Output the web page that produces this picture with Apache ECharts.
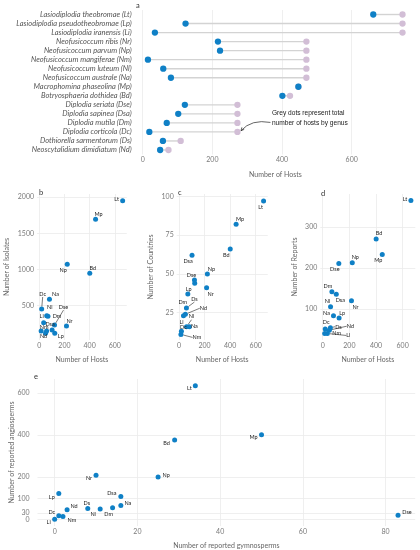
<!DOCTYPE html>
<html>
<head>
<meta charset="utf-8">
<script src="https://cdn.jsdelivr.net/npm/echarts@6/dist/echarts.min.js"></script>
<style>
html, body { margin: 0; padding: 0; background: #fff; }
#chart { width: 420px; height: 550px; }
</style>
</head>
<body>
<div id="chart"></div>
<script>
// species shown in panel a, top to bottom
const species = [
  'Lasiodiplodia theobromae (Lt)', 'Lasiodiplodia pseudotheobromae (Lp)', 'Lasiodiplodia iranensis (Li)',
  'Neofusicoccum ribis (Nr)', 'Neofusicoccum parvum (Np)', 'Neofusicoccum mangiferae (Nm)',
  'Neofusicoccum luteum (Nl)', 'Neofusicoccum australe (Na)', 'Macrophomina phaseolina (Mp)',
  'Botryosphaeria dothidea (Bd)', 'Diplodia seriata (Dse)', 'Diplodia sapinea (Dsa)',
  'Diplodia mutila (Dm)', 'Diplodia corticola (Dc)', 'Dothiorella sarmentorum (Ds)',
  'Neoscytalidium dimidiatum (Nd)'
];
const codes = ['Lt', 'Lp', 'Li', 'Nr', 'Np', 'Nm', 'Nl', 'Na', 'Mp', 'Bd', 'Dse', 'Dsa', 'Dm', 'Dc', 'Ds', 'Nd'];

const hosts       = [662, 123, 35, 216, 222, 15, 59, 81, 447, 401, 121, 102, 69, 19, 58, 50];
const genusHosts  = [746, 746, 746, 470, 470, 470, 470, 470, 447, 423, 272, 272, 272, 272, 109, 74];
const isolates    = [1953, 111, 259, 212, 1069, 143, 356, 583, 1694, 944, 226, 157, 347, 449, 143, 111];
const countries   = [97, 44, 23, 41, 50, 11, 16, 16, 82, 66, 46, 62, 37, 13, 28, 24];
const reports     = [365, 78, 40, 120, 213, 40, 105, 83, 233, 271, 211, 136, 142, 51, 54, 48];
const gymnosperms = [34, 1, 0, 10, 25, 2, 11, 16, 50, 29, 83, 16, 14, 1, 8, 3];
const angiosperms = [635, 123, 0, 209, 201, 13, 49, 66, 402, 377, 19, 108, 55, 17, 51, 46];

const hostTicks    = [0, 200, 400, 600];
const isolateTicks = [500, 1000, 1500, 2000];
const countryTicks = [25, 50, 75, 100];
const reportTicks  = [100, 200, 300];
const gymnoTicks   = [0, 20, 40, 60, 80];
const angioTicks   = [0, 30, 100, 200, 400, 600];

// label nudges (dx, dy in px, leader line), like ggrepel placed them
const offB = {
  Lt: [-6, -1], Mp: [3, -5], Np: [-4, 6], Bd: [3, -5], Dc: [1, -15, 1], Na: [6, -5],
  Nl: [3, -8], Dm: [9, 0], Li: [-2, -6], Dse: [9, -18, 1], Dsa: [-2, -6], Nr: [3, -5],
  Nm: [3, -4], Ds: null, Nd: [-2, 3], Lp: [6, 3]
};
const offC = {
  Lt: [-3, 6], Mp: [4, -5], Bd: [-4, 6], Dsa: [-4, 6], Np: [4, -5], Dse: [-3, -5],
  Lp: [-6, 6], Nr: [4, 6], Dm: [-5, 8], Ds: [8, -9, 1], Nd: [18, -6, 1], Li: [-2, 6],
  Nl: [5, -10, 1], Na: [5, 0], Dc: [2, -4], Nm: [16, 3, 1]
};
const offD = {
  Lt: [-6, -1], Bd: [3, -6], Mp: [-4, 6], Np: [3, -5], Dse: [-4, 6], Dm: [-4, -6],
  Dsa: [4, 6], Nr: [4, 6], Nl: [-3, -6], Na: [-7, -3], Lp: [3, -5], Dc: [1, -7],
  Ds: [8, -1, 1], Nd: [21, -4, 1], Nm: [12, 0], Li: [21, 2, 1]
};
const offE = {
  Lt: [-6, 3], Mp: [-8, 3], Bd: [-8, 3], Np: [8, -2], Nr: [-7, 3], Lp: [-7, 4],
  Dsa: [-9, -3], Na: [7, -2], Dm: [-4, 6], Nl: [-7, 5], Ds: [-1, -5], Nd: [7, -3],
  Dc: [-7, -4], Nm: [9, 4], Li: [-6, 3], Dse: [9, -3]
};

const blue = '#0f80c6';
const lilac = '#d2bed6';
const font = 'Lato';
const tickColor = '#7a7a7a';
const gridLine = { lineStyle: { color: '#ebebeb', width: 0.8 } };

function valueAxis(gridIndex, min, max, ticks, name, nameGap, vertical) {
  return {
    type: 'value', gridIndex: gridIndex, min: min, max: max,
    axisLine: { show: false, onZero: false },
    axisTick: { show: false, customValues: ticks },
    axisLabel: {
      customValues: ticks, formatter: v => String(v), hideOverlap: false,
      showMinLabel: true, showMaxLabel: true,
      color: tickColor, fontFamily: font, fontSize: 7, margin: vertical ? 3 : 2
    },
    splitLine: gridLine,
    name: name, nameLocation: 'middle', nameGap: nameGap,
    nameTextStyle: { color: '#666', fontFamily: font, fontSize: 7 }
  };
}

function scatter(idx, xs, ys, off) {
  return {
    type: 'scatter', xAxisIndex: idx, yAxisIndex: idx,
    symbolSize: 5, itemStyle: { color: blue, opacity: 1 },
    data: codes.map((c, i) => ({
      name: c, value: [xs[i], ys[i]],
      label: { show: off[c] != null },
      labelLine: { show: !!(off[c] && off[c][2]) }
    })),
    label: { position: 'inside', formatter: '{b}', color: '#222', fontFamily: font, fontSize: 5.5 },
    labelLine: { show: false, lineStyle: { color: '#222', width: 0.6 } },
    labelLayout: p => {
      const o = off[codes[p.dataIndex]] || [0, 0];
      return { dx: o[0], dy: o[1] };
    }
  };
}

// panel e: ECharts drops some of the close ticks (0 / 30 / 100), so the axis keeps
// the grid lines and the labels are written next to it from the same scale
const angioAxis = valueAxis(4, -31.75, 666.75, angioTicks, 'Number of reported angiosperms', 22.5, true);
angioAxis.axisLabel.show = false;

const chart = echarts.init(document.getElementById('chart'));

const option = {
  animation: false,
  backgroundColor: '#fff',
  grid: [
    { left: 134.7, top: 10, width: 281.4, height: 144.5 },
    { left: 37, top: 194, width: 89.8, height: 146 },
    { left: 176.7, top: 194, width: 91.1, height: 146 },
    { left: 320.3, top: 194, width: 95, height: 146 },
    { left: 32.6, top: 379, width: 382.6, height: 147 }
  ],
  xAxis: [
    valueAxis(0, -23, 785, hostTicks, 'Number of Hosts', 17),
    valueAxis(1, -18, 695, hostTicks, 'Number of Hosts', 16),
    valueAxis(2, -18, 695, hostTicks, 'Number of Hosts', 16),
    valueAxis(3, -18, 695, hostTicks, 'Number of Hosts', 16),
    valueAxis(4, -4.15, 87.15, gymnoTicks, 'Number of reported gymnosperms', 16)
  ],
  yAxis: [
    {
      type: 'category', gridIndex: 0, data: species, inverse: true,
      axisLine: { show: false }, axisTick: { show: false }, splitLine: { show: false },
      axisLabel: { interval: 0, hideOverlap: false, color: '#555', fontFamily: font,
                   fontStyle: 'italic', fontSize: 7.5, margin: 3 }
    },
    valueAxis(1, 19, 2045, isolateTicks, 'Number of Isolates', 27, true),
    valueAxis(2, 7.4, 101.5, countryTicks, 'Number of Countries', 22.5, true),
    valueAxis(3, 24, 381, reportTicks, 'Number of Reports', 22, true),
    angioAxis
  ],
  series: [
    {
      type: 'custom', xAxisIndex: 0, yAxisIndex: 0,
      data: codes.map((c, i) => [hosts[i], genusHosts[i], i]),
      encode: { x: [0, 1], y: 2 },
      renderItem: (params, api) => {
        const a = api.coord([api.value(0), api.value(2)]);
        const b = api.coord([api.value(1), api.value(2)]);
        return { type: 'line', shape: { x1: a[0], y1: a[1], x2: b[0], y2: b[1] },
                 style: { stroke: '#d3d3d3', lineWidth: 1.4 } };
      }
    },
    {
      type: 'scatter', xAxisIndex: 0, yAxisIndex: 0, symbolSize: 6.3,
      itemStyle: { color: lilac, opacity: 1 },
      data: species.map((s, i) => [genusHosts[i], s])
    },
    {
      type: 'scatter', xAxisIndex: 0, yAxisIndex: 0, symbolSize: 6.3,
      itemStyle: { color: blue, opacity: 1 },
      data: species.map((s, i) => [hosts[i], s])
    },
    scatter(1, hosts, isolates, offB),
    scatter(2, hosts, countries, offC),
    scatter(3, hosts, reports, offD),
    scatter(4, gymnosperms, angiosperms, offE)
  ]
};
chart.setOption(option);

// panel tags, panel e tick labels and the arrow note, placed from the scales
const tag = (t, x, y) => ({ type: 'text', x: x, y: y,
  style: { text: t, fill: '#333', font: '7.5px Lato', textVerticalAlign: 'middle' } });
const eLeft = option.grid[4].left;
const angioLabels = angioTicks.map(v => ({
  type: 'text', x: eLeft - 3, y: chart.convertToPixel({ yAxisIndex: 4 }, v),
  style: { text: String(v), fill: tickColor, font: '7px Lato', textAlign: 'right', textVerticalAlign: 'middle' }
}));
const dc = codes.indexOf('Dc');
const p = chart.convertToPixel({ gridIndex: 0 }, [genusHosts[dc], dc]);
const tip = [p[0] + 3.5, p[1] - 1.2];
const start = [p[0] + 33, p[1] - 9.5];
const ctrl = [p[0] + 14, p[1] - 13];
const ang = Math.atan2(tip[1] - ctrl[1], tip[0] - ctrl[0]);
const head = a => [tip[0] - 3.5 * Math.cos(ang + a), tip[1] - 3.5 * Math.sin(ang + a)];
const noteFont = '6.6px "Liberation Sans"';

chart.setOption({
  graphic: [
    tag('a', 136, 6), tag('b', 39, 193), tag('c', 178, 193), tag('d', 321, 194), tag('e', 34, 377),
    ...angioLabels,
    { type: 'text', x: start[0] + 1.5, y: p[1] - 19,
      style: { text: 'Grey dots represent total', fill: '#222', font: noteFont, textVerticalAlign: 'middle' } },
    { type: 'text', x: start[0] + 1.5, y: p[1] - 8.5,
      style: { text: 'number of hosts by genus', fill: '#222', font: noteFont, textVerticalAlign: 'middle' } },
    { type: 'bezierCurve',
      shape: { x1: start[0], y1: start[1], x2: tip[0], y2: tip[1], cpx1: ctrl[0], cpy1: ctrl[1] },
      style: { stroke: '#222', lineWidth: 0.7, fill: null } },
    { type: 'polyline', shape: { points: [head(0.45), tip, head(-0.45)] },
      style: { stroke: '#222', lineWidth: 0.7, fill: null } }
  ]
});
</script>
</body>
</html>
